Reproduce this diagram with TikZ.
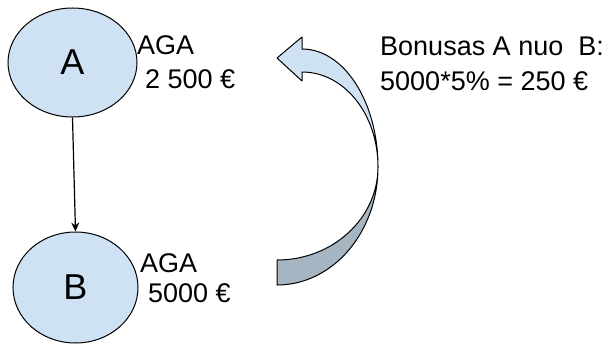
\documentclass[tikz,border=0pt]{standalone}
\usepackage{fontspec}
\setmainfont{Liberation Sans}
\usetikzlibrary{shapes.geometric,arrows.meta}
\definecolor{lightfill}{HTML}{CFE2F3}
\definecolor{darkfill}{HTML}{A6B5C2}
\tikzset{
  bubble/.style={ellipse,draw=black,line width=1pt,fill=lightfill,inner sep=0pt,
    font=\fontsize{36}{40}\selectfont},
  lbl/.style={anchor=base west,inner sep=0pt,align=left,
    font=\fontsize{27}{35}\selectfont},
  ribbon/.style={draw=black,line width=1pt,line join=round},
  flow/.style={draw=black,line width=1.2pt,-{Stealth[length=9pt,width=8pt]}}
}
\begin{document}
\begin{tikzpicture}[x=1pt,y=-1pt]
\useasboundingbox (0,0) rectangle (612,345);
% nodes
\node[bubble,minimum width=129pt,minimum height=109pt] (A) at (72.5,62.5) {A};
\node[bubble,minimum width=125pt,minimum height=111pt] (B) at (75.5,287.5) {B};
\draw[flow] (A.south) -- (B.north);
% labels (base anchor = baseline of last line)
\node[lbl] (la) at (137,88) {AGA\\[-2pt]\hspace*{8pt}2 500 €};
\node[lbl] (lb) at (140,302) {AGA\\[-5pt]\hspace*{8pt}5000 €};
\node[lbl] (lc) at (380,90) {Bonusas A nuo\ \ B:\\5000*5\% = 250 €};
% curved arrow: lower (back) piece
\path[ribbon,fill=darkfill]
  (378,167) .. controls (378,232) and (333,285) .. (277,285)
  -- (277,260)
  .. controls (333,260) and (378,218) .. (378,167) -- cycle;
% upper (front) piece with head
\path[ribbon,fill=lightfill]
  (277,58) -- (302,37) -- (302,49)
  .. controls (344,49) and (378,102) .. (378,167)
  .. controls (378,114) and (344,72) .. (302,72)
  -- (302,81) -- cycle;
\end{tikzpicture}
\end{document}
